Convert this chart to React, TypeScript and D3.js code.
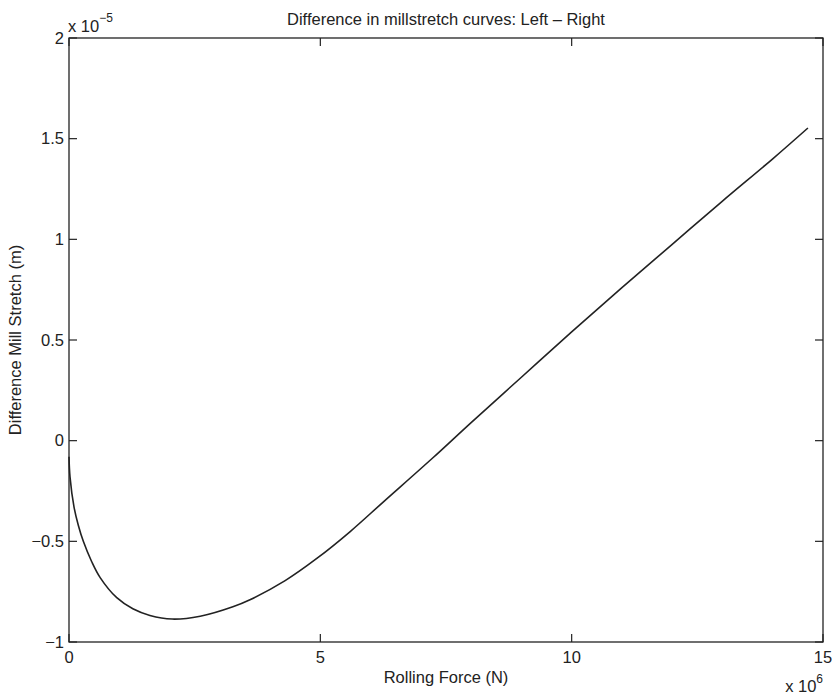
import * as d3 from "d3";

// Rolling force (x 10^6 N)
const forceValues = [
  0, 0.02, 0.1, 0.185, 0.285, 0.45, 0.62, 0.95, 1.27, 1.61, 2.05, 2.61, 3.26, 3.6,
  4.3, 4.93, 5.6, 6.25, 7.24, 8, 9, 10, 11, 12, 13, 14, 14.7,
];
// Difference mill stretch (x 10^-5 m)
const stretchValues = [
  -0.08, -0.18, -0.33, -0.42, -0.5, -0.6, -0.68, -0.78, -0.835, -0.868, -0.886, -0.872, -0.825, -0.79,
  -0.695, -0.585, -0.45, -0.305, -0.085, 0.09, 0.315, 0.54, 0.76, 0.975, 1.19, 1.4, 1.553,
];

const xTicks = [0, 5, 10, 15];
const yTicks = [-1, -0.5, 0, 0.5, 1, 1.5, 2];

const titleText = "Difference in millstretch curves: Left \u2013 Right";
const xLabel = "Rolling Force (N)";
const yLabel = "Difference Mill Stretch (m)";

const W = 832;
const H = 696;
const margin = { left: 69, right: 9, top: 38, bottom: 54 };
const ink = "#222";
const font = "'Liberation Sans', Arial, Helvetica, sans-serif";
const fs = 16.5;
const tickLen = 8;

const fmt = (v: number) => (v < 0 ? "\u2212" + String(-v) : String(v));

export default function App() {
  const x = d3.scaleLinear().domain([0, 15]).range([margin.left, W - margin.right]);
  const y = d3.scaleLinear().domain([-1, 2]).range([H - margin.bottom, margin.top]);

  const points = forceValues.map((f, i) => [f, stretchValues[i]] as [number, number]);
  const path = d3
    .line<[number, number]>()
    .x((d) => x(d[0]))
    .y((d) => y(d[1]))
    .curve(d3.curveCatmullRom.alpha(0.5))(points);

  const x0 = x(0), x1 = x(15), y0 = y(-1), y1 = y(2);

  return (
    <svg
      width={W}
      height={H}
      style={{ position: "absolute", left: 0, top: 0, background: "#fff" }}
      fontFamily={font}
      fontSize={fs}
      fill={ink}
    >
      <rect x={0} y={0} width={W} height={H} fill="#fff" />

      {/* box */}
      <rect x={x0} y={y1} width={x1 - x0} height={y0 - y1} fill="none" stroke={ink} strokeWidth={1.3} />

      {/* x ticks (bottom + top, inward) */}
      {xTicks.map((t) => (
        <g key={"x" + t}>
          <line x1={x(t)} x2={x(t)} y1={y0} y2={y0 - tickLen} stroke={ink} strokeWidth={1.2} />
          <line x1={x(t)} x2={x(t)} y1={y1} y2={y1 + tickLen} stroke={ink} strokeWidth={1.2} />
          <text x={x(t)} y={y0 + 21} textAnchor="middle">
            {fmt(t)}
          </text>
        </g>
      ))}

      {/* y ticks (left + right, inward) */}
      {yTicks.map((t) => (
        <g key={"y" + t}>
          <line x1={x0} x2={x0 + tickLen} y1={y(t)} y2={y(t)} stroke={ink} strokeWidth={1.2} />
          <line x1={x1} x2={x1 - tickLen} y1={y(t)} y2={y(t)} stroke={ink} strokeWidth={1.2} />
          <text x={x0 - 5} y={y(t)} dy="0.35em" textAnchor="end">
            {fmt(t)}
          </text>
        </g>
      ))}

      {/* curve */}
      <path d={path ?? ""} fill="none" stroke={ink} strokeWidth={1.6} />

      {/* exponent labels */}
      <text x={x0 - 1} y={y1 - 6}>
        x 10
        <tspan fontSize={12} dy={-10}>
          {"\u22125"}
        </tspan>
      </text>
      <text x={x1} y={H - 4} textAnchor="end">
        x 10
        <tspan fontSize={12} dy={-9}>
          6
        </tspan>
      </text>

      {/* title and axis labels */}
      <text x={(x0 + x1) / 2} y={25} textAnchor="middle">
        {titleText}
      </text>
      <text x={(x0 + x1) / 2} y={H - 13} textAnchor="middle">
        {xLabel}
      </text>
      <text transform={`translate(21,${(y0 + y1) / 2}) rotate(-90)`} textAnchor="middle">
        {yLabel}
      </text>
    </svg>
  );
}
